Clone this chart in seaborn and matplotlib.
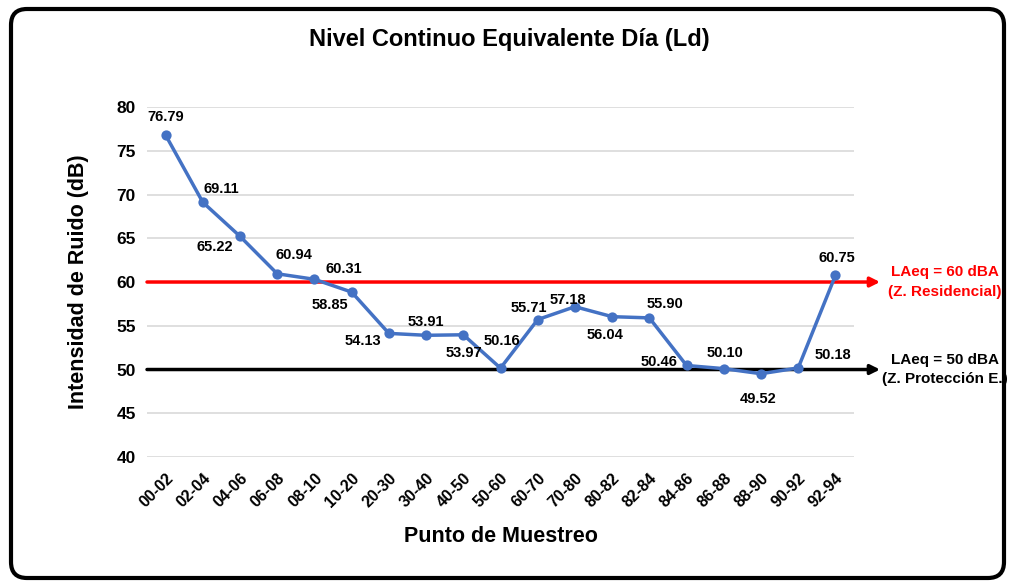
import matplotlib
matplotlib.use("Agg")
import matplotlib.pyplot as plt
import seaborn as sns
import pandas as pd
from matplotlib.patches import FancyBboxPatch
from matplotlib.transforms import IdentityTransform

# Data
puntos = ["00-02", "02-04", "04-06", "06-08", "08-10", "10-20", "20-30", "30-40",
          "40-50", "50-60", "60-70", "70-80", "80-82", "82-84", "84-86", "86-88",
          "88-90", "90-92", "92-94"]
ld = [76.79, 69.11, 65.22, 60.94, 60.31, 58.85, 54.13, 53.91, 53.97, 50.16,
      55.71, 57.18, 56.04, 55.90, 50.46, 50.10, 49.52, 50.18, 60.75]
limites = [60, 50]
limite_textos = ["LAeq = 60 dBA\n(Z. Residencial)", "LAeq = 50 dBA\n(Z. Protección E.)"]
limite_colores = ["#FF0000", "#000000"]

# label offsets in pixels (dx, dy) relative to each point
offsets = [(0, 18), (18, 13), (-25, -11), (17, 19), (29, 10), (-22, -13), (-26, -8),
           (0, 13), (1, -18), (1, 27), (-9, 12), (-7, 7), (-7, -18), (16, 14),
           (-28, 3), (1, 16), (-3, -25), (35, 13), (1, 17)]

df = pd.DataFrame({"punto": puntos, "ld": ld})

plt.rcParams['font.family'] = ['Liberation Sans', 'DejaVu Sans']
plt.rcParams['font.weight'] = 'bold'

fig = plt.figure(figsize=(10.09, 5.81), dpi=100)
ax = fig.add_axes([0.1457, 0.2134, 0.7007, 0.6024])

sns.pointplot(data=df, x="punto", y="ld", color="#4472C4", markers="o",
              markersize=5.5, linewidth=2.5, ax=ax)

ax.set_ylim(40, 80)
ax.set_xlim(-0.5, len(puntos) - 0.5)
ax.set_yticks(range(40, 81, 5))
ax.grid(axis="y", color="#D9D9D9", linewidth=1.2)
ax.set_axisbelow(True)
for s in ax.spines.values():
    s.set_visible(False)
ax.tick_params(length=0, pad=8)
ax.tick_params(axis="y", labelsize=12.5)
ax.tick_params(axis="x", labelsize=11.5, pad=10)
plt.setp(ax.get_xticklabels(), rotation=45, ha="right", rotation_mode="anchor",
         fontweight="bold")
plt.setp(ax.get_yticklabels(), fontweight="bold")

ax.set_xlabel("Punto de Muestreo", fontsize=15.5, fontweight="bold", labelpad=11)
ax.set_ylabel("Intensidad de Ruido (dB)", fontsize=15.5, fontweight="bold", labelpad=20)
fig.suptitle("Nivel Continuo Equivalente Día (Ld)", fontsize=17, fontweight="bold",
             x=0.505, y=0.952)

# data labels
for i, (v, off) in enumerate(zip(ld, offsets)):
    ax.annotate(f"{v:.2f}", xy=(i, v), xytext=off, textcoords="offset pixels",
                ha="center", va="center", fontsize=10.5, fontweight="bold")

# limit arrows
for lim, txt, col in zip(limites, limite_textos, limite_colores):
    ax.annotate("", xy=(len(puntos) + 0.2, lim), xytext=(-0.5, lim),
                arrowprops=dict(arrowstyle="-|>", color=col, lw=2.5,
                                mutation_scale=14, shrinkA=0, shrinkB=0),
                annotation_clip=False, zorder=1)
    ax.annotate(txt, xy=(len(puntos) + 0.2, lim), xytext=(65, 0),
                textcoords="offset pixels", ha="center", va="center",
                fontsize=11, fontweight="bold", color=col, linespacing=1.5,
                annotation_clip=False)

# rounded frame around the figure
frame = FancyBboxPatch((11, 3), 993, 569, boxstyle="round,pad=0,rounding_size=16",
                       transform=IdentityTransform(), fill=False,
                       edgecolor="black", linewidth=3)
fig.patches.append(frame)

fig.savefig("out.png", dpi=100)
